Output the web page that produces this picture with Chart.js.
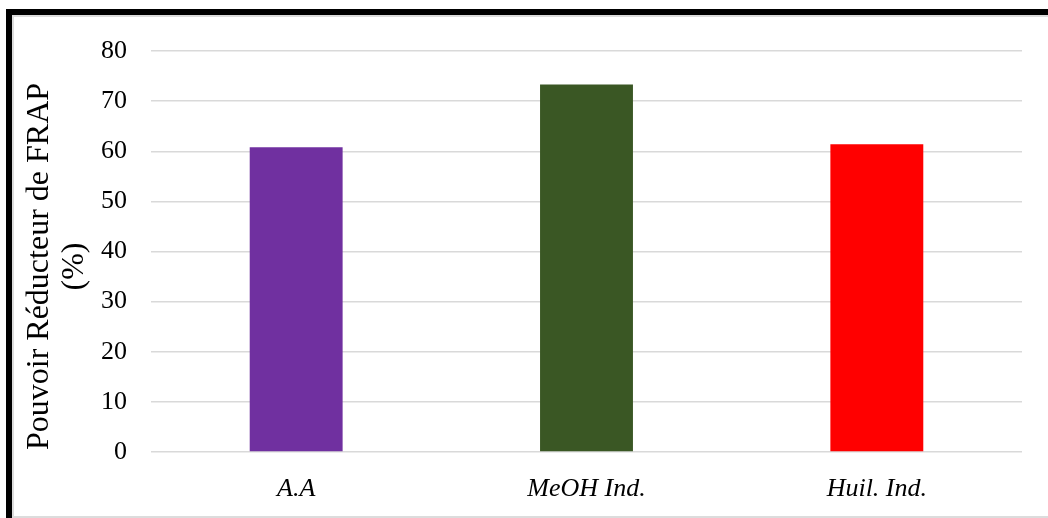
<!DOCTYPE html>
<html>
<head>
<meta charset="utf-8">
<script src="https://cdn.jsdelivr.net/npm/chart.js@4.4.1/dist/chart.umd.min.js"></script>
<style>
  html, body { margin: 0; padding: 0; background: #fff; }
  #wrap { position: relative; width: 1048px; height: 518px; }
  canvas { display: block; }
</style>
</head>
<body>
<div id="wrap"><canvas id="c" width="1048" height="518"></canvas></div>
<script>
// Reducing power (FRAP) per sample
const categories = ['A.A', 'MeOH Ind.', 'Huil. Ind.'];
const frapValues = [60.8, 73.3, 61.4];
const barColors = ['#7030A0', '#3A5724', '#FF0000'];
const yTitle = ['Pouvoir Réducteur de FRAP', '(%)'];

const serif = '"Liberation Serif", "Times New Roman", serif';

// Black frame along the top and left edges
const framePlugin = {
  id: 'frame',
  afterDraw(chart) {
    const ctx = chart.ctx;
    ctx.save();
    ctx.fillStyle = '#dcdcdc';
    ctx.fillRect(12, 15, 1036, 2);
    ctx.fillRect(12, 15, 2, 503);
    ctx.fillRect(12, 516, 1036, 2);
    ctx.fillStyle = '#000';
    ctx.fillRect(6, 9, 1042, 6);
    ctx.fillRect(6, 9, 6, 509);
    ctx.restore();
  }
};

// Two-line rotated title for the value axis
const yTitlePlugin = {
  id: 'yTitle',
  afterDraw(chart) {
    const ctx = chart.ctx;
    const area = chart.chartArea;
    const cy = (area.top + area.bottom) / 2 + 15;
    ctx.save();
    ctx.fillStyle = '#000';
    ctx.font = '32px ' + serif;
    ctx.textAlign = 'center';
    ctx.textBaseline = 'middle';
    const xs = [40, 75];
    yTitle.forEach((line, i) => {
      ctx.save();
      ctx.translate(xs[i], cy);
      ctx.rotate(-Math.PI / 2);
      ctx.fillText(line, 0, 0);
      ctx.restore();
    });
    ctx.restore();
  }
};

new Chart(document.getElementById('c'), {
  type: 'bar',
  data: {
    labels: categories,
    datasets: [{
      data: frapValues,
      backgroundColor: barColors,
      borderWidth: 0,
      categoryPercentage: 1.0,
      barPercentage: 0.32
    }]
  },
  options: {
    responsive: false,
    animation: false,
    devicePixelRatio: 1,
    layout: { padding: { top: 51, right: 26, left: 22, bottom: 0 } },
    plugins: { legend: { display: false }, tooltip: { enabled: false } },
    scales: {
      x: {
        grid: { display: false },
        border: { display: false },
        ticks: {
          color: '#000',
          padding: 14,
          font: { family: serif, size: 26, style: 'italic' }
        },
        afterFit(scale) { scale.height = 66; }
      },
      y: {
        min: 0,
        max: 80,
        ticks: {
          stepSize: 10,
          color: '#000',
          padding: 24,
          font: { family: serif, size: 26 }
        },
        grid: { color: '#d9d9d9', lineWidth: 1.5, drawTicks: false },
        border: { display: false },
        afterFit(scale) { scale.width = 129; }
      }
    }
  },
  plugins: [framePlugin, yTitlePlugin]
});
</script>
</body>
</html>
